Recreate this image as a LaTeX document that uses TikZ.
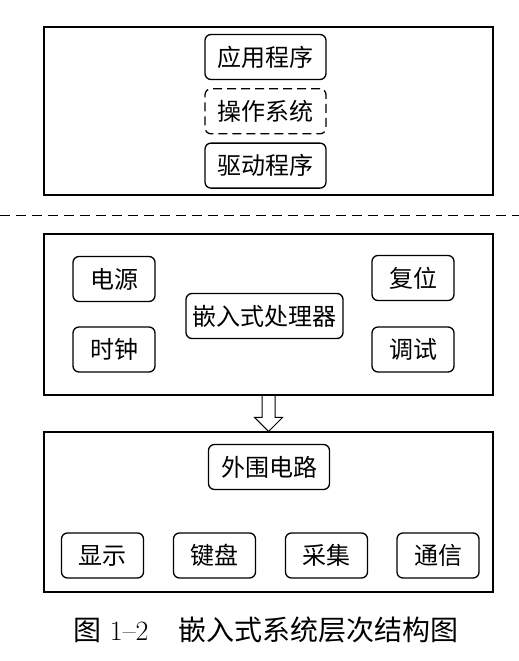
\documentclass[tikz,border=0pt]{standalone}
\usepackage{fontspec}
\newfontfamily\cjk{Noto Sans CJK SC}
\usepackage{tikz}
\usetikzlibrary{positioning}

\begin{document}
\begin{tikzpicture}[
  x=1pt,y=-1pt,
  node distance=8pt and 30pt,
  layer/.style={draw,line width=1.1pt,minimum width=449pt,inner sep=0pt},
  part/.style={draw,rounded corners=6pt,line width=1.3pt,minimum height=45pt,inner sep=0pt,font=\cjk\fontsize{24}{27}\selectfont},
  wide/.style={part,minimum width=121pt},
  small/.style={part,minimum width=82pt},
  sep/.style={line width=0.9pt,dash pattern=on 10pt off 6pt}
]
\useasboundingbox (0,0) rectangle (519,661);
% software layer
\node[layer,minimum height=168pt] (soft) at (268.5,111) {};
\node[wide] (app) at (265.5,57) {应用程序};
\node[wide,dash pattern=on 9pt off 5pt,below=of app] (os) {操作系统};
\node[wide,below=of os] (drv) {驱动程序};
\coordinate (L) at (0,215);
\coordinate (R) at (519,215);
\draw[sep] (L) -- (R);
% hardware layer
\node[layer,minimum height=161pt] (hard) at (268.5,314.5) {};
\node[part,minimum width=157pt] (cpu) at (264.5,316) {嵌入式处理器};
\node[small] (pwr) at (114,279) {电源};
\node[small] (clk) at (114,349.5) {时钟};
\node[small] (rst) at (413,278) {复位};
\node[small] (dbg) at (413,349.5) {调试};
% peripherals
\node[layer,minimum height=160pt] (periph) at (268.5,512) {};
\node[wide] (ext) at (269,467) {外围电路};
\node[small] (disp) at (102.5,555.5) {显示};
\node[small] (keys) at (214.5,555.5) {键盘};
\node[small] (acq) at (326.5,555.5) {采集};
\node[small] (com) at (438,555.5) {通信};
\draw[line width=1pt,line join=miter]
  ([xshift=-6.5pt]hard.south) |- ([xshift=-14pt,yshift=14pt]periph.north)
  -- (periph.north) -- ([xshift=14pt,yshift=14pt]periph.north)
  -| ([xshift=6.5pt]hard.south);
\node[font=\fontsize{28}{30}\selectfont] (cap) at (266,630) {{\cjk 图} 1--2\hspace{30pt}{\cjk 嵌入式系统层次结构图}};
\end{tikzpicture}
\end{document}
